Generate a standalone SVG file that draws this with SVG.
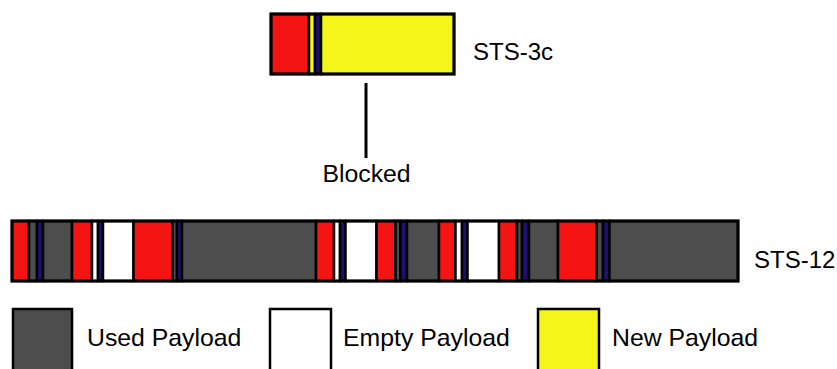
<svg xmlns="http://www.w3.org/2000/svg" width="837" height="369" viewBox="0 0 837 369">
<style>
.s{stroke:#000;stroke-width:2.5}
.r{fill:#F41414}
.g{fill:#4D4D4D}
.b{fill:#1C1070}
.w{fill:#FFFFFF}
.y{fill:#F5F51A}
text{font-family:"Liberation Sans",Arial,sans-serif;font-size:24.8px;fill:#000}
text.lbl{font-size:24px}
</style>
<rect width="837" height="369" fill="#fff"/>
<g id="sts3c">
<rect class="s r" x="271" y="14" width="38" height="60"/>
<rect class="s y" x="309" y="14" width="6" height="60"/>
<rect class="s b" x="315" y="14" width="6" height="60"/>
<rect class="s y" x="321" y="14" width="133" height="60"/>
<rect x="271" y="14" width="183" height="60" fill="none" stroke="#000" stroke-width="3"/>
<text class="lbl" x="473" y="60">STS-3c</text>
</g>
<g id="connectors">
<line x1="366" y1="83" x2="366" y2="158" stroke="#000" stroke-width="3"/>
</g>
<g id="blocked">
<text x="366.5" y="182" text-anchor="middle">Blocked</text>
</g>
<g id="sts12">
<rect class="s r" x="12" y="221" width="17" height="60"/>
<rect class="s g" x="29" y="221" width="8" height="60"/>
<rect class="s b" x="37" y="221" width="6" height="60"/>
<rect class="s g" x="43" y="221" width="29" height="60"/>
<rect class="s r" x="72" y="221" width="20" height="60"/>
<rect class="s w" x="92" y="221" width="6" height="60"/>
<rect class="s b" x="98" y="221" width="5" height="60"/>
<rect class="s w" x="103" y="221" width="30.5" height="60"/>
<rect class="s r" x="133.5" y="221" width="39" height="60"/>
<rect class="s g" x="172.5" y="221" width="4.5" height="60"/>
<rect class="s b" x="177" y="221" width="5" height="60"/>
<rect class="s g" x="182" y="221" width="134" height="60"/>
<rect class="s r" x="316" y="221" width="18" height="60"/>
<rect class="s w" x="334" y="221" width="6" height="60"/>
<rect class="s b" x="340" y="221" width="5.5" height="60"/>
<rect class="s w" x="345.5" y="221" width="31" height="60"/>
<rect class="s r" x="376.5" y="221" width="19" height="60"/>
<rect class="s g" x="395.5" y="221" width="5" height="60"/>
<rect class="s b" x="400.5" y="221" width="6.5" height="60"/>
<rect class="s g" x="407" y="221" width="32" height="60"/>
<rect class="s r" x="439" y="221" width="16.5" height="60"/>
<rect class="s w" x="455.5" y="221" width="6.5" height="60"/>
<rect class="s b" x="462" y="221" width="5.5" height="60"/>
<rect class="s w" x="467.5" y="221" width="31.5" height="60"/>
<rect class="s r" x="499" y="221" width="18" height="60"/>
<rect class="s g" x="517" y="221" width="5" height="60"/>
<rect class="s b" x="522" y="221" width="7" height="60"/>
<rect class="s g" x="529" y="221" width="29" height="60"/>
<rect class="s r" x="558" y="221" width="38.5" height="60"/>
<rect class="s g" x="596.5" y="221" width="6.5" height="60"/>
<rect class="s b" x="603" y="221" width="6.5" height="60"/>
<rect class="s g" x="609.5" y="221" width="128.5" height="60"/>
<rect x="12" y="221" width="726" height="60" fill="none" stroke="#000" stroke-width="3"/>
<text class="lbl" x="754" y="268">STS-12</text>
</g>
<g id="legend-used">
<rect class="s g" x="13" y="309" width="59" height="70"/>
<text x="87" y="346">Used Payload</text>
</g>
<g id="legend-empty">
<rect class="s w" x="270" y="309" width="61" height="70"/>
<text x="343" y="346">Empty Payload</text>
</g>
<g id="legend-new">
<rect class="s y" x="538" y="309" width="61" height="70"/>
<text x="612" y="346">New Payload</text>
</g>
</svg>
